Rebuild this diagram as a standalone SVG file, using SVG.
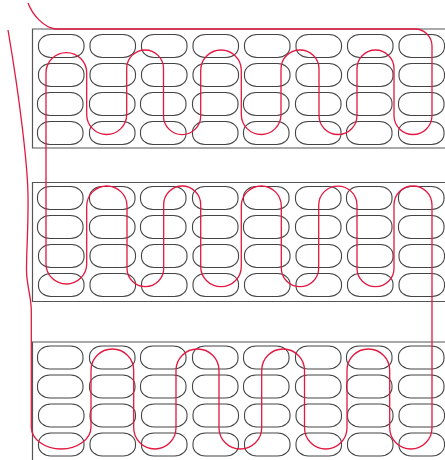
<svg xmlns="http://www.w3.org/2000/svg" width="445" height="460" viewBox="0 0 445 460">
<style>
.panel{fill:none;stroke:#555;stroke-width:1.2}
.pill{fill:none;stroke:#444;stroke-width:1.1}
.wire{fill:none;stroke:#e3173f;stroke-width:1.3}
</style>
<defs>
<rect id="p" class="pill" width="45.5" height="23" rx="12.5" ry="10.5"/>
<g id="row-a"><use href="#p" x="38.5"/><use href="#p" x="90"/><use href="#p" x="141.5"/><use href="#p" x="193"/><use href="#p" x="244.5"/><use href="#p" x="296"/><use href="#p" x="347.5"/><use href="#p" x="399"/></g>
<g id="row-b"><use href="#p" x="37.5"/><use href="#p" x="89.5"/><use href="#p" x="140.5"/><use href="#p" x="192.5"/><use href="#p" x="243.5"/><use href="#p" x="295.5"/><use href="#p" x="346.5"/><use href="#p" x="398.5"/></g>
</defs>
<g id="panel-1">
<path class="panel" d="M445 29H32.500V148H445"/>
<use href="#row-a" y="34.500"/><use href="#row-a" y="63.500"/><use href="#row-b" y="92.500"/><use href="#row-b" y="121.500"/>
</g>
<g id="panel-2">
<path class="panel" d="M445 182.500H32.500V301.500H445"/>
<use href="#row-b" y="186.500"/><use href="#row-b" y="215.500"/><use href="#row-a" y="244.500"/><use href="#row-a" y="273.500"/>
</g>
<g id="panel-3">
<path class="panel" d="M445 342H32.500V460"/>
<use href="#row-b" y="346"/><use href="#row-b" y="375"/><use href="#row-a" y="404"/><use href="#row-a" y="433"/>
</g>
<g id="connectors">
<path class="wire" d="M28 3C33 16 44 27 55 29H415A17 17 0 0 1 432 46V115.500A19 19 0 0 1 394 115.500V68.500A18.500 18.500 0 0 0 357 68.500V115.500A19 19 0 0 1 319 115.500V69A19 19 0 0 0 281 69V114.500A19.850 20 0 0 1 241.300 114.500V70.300A20.300 20.300 0 0 0 200.700 70.300V116A18.600 18.600 0 0 1 163.500 116V68.400A18.400 18.400 0 0 0 126.700 68.400V114.500A20 20 0 0 1 86.700 114.500V72.900A20.350 20.350 0 0 0 46 72.900V263.650A20.350 20.350 0 0 0 86.700 263.650V206.150A20.150 20.150 0 0 1 127 206.150V268.350A18.350 18.350 0 0 0 163.700 268.350V204.500A18.500 18.500 0 0 1 200.700 204.500V266.400A20.300 20.300 0 0 0 241.300 266.400V206A20 20 0 0 1 281.300 206V268A18.700 18.700 0 0 0 318.700 268V205.150A19.150 19.150 0 0 1 357 205.150V268.200A18.500 18.500 0 0 0 394 268.200V205A19 19 0 0 1 432 205V427.850A21.150 21.150 0 0 1 389.700 427.850V370.350A21.350 21.350 0 0 0 347 370.350V427.750A21.250 21.250 0 0 1 304.500 427.750V370.400A21.400 21.400 0 0 0 261.700 370.400V427.650A21.350 21.350 0 0 1 219 427.650V370.500A21.500 21.500 0 0 0 176 370.500V427.850A21.150 21.150 0 0 1 133.700 427.850V370.350A21.350 21.350 0 0 0 91 370.350V427A29.850 22 0 0 1 31.300 427V310C31 295 26.500 285 26.500 270C26.500 250 28.500 225 28 195C27.500 165 20 100 8 30"/>
</g>
</svg>
